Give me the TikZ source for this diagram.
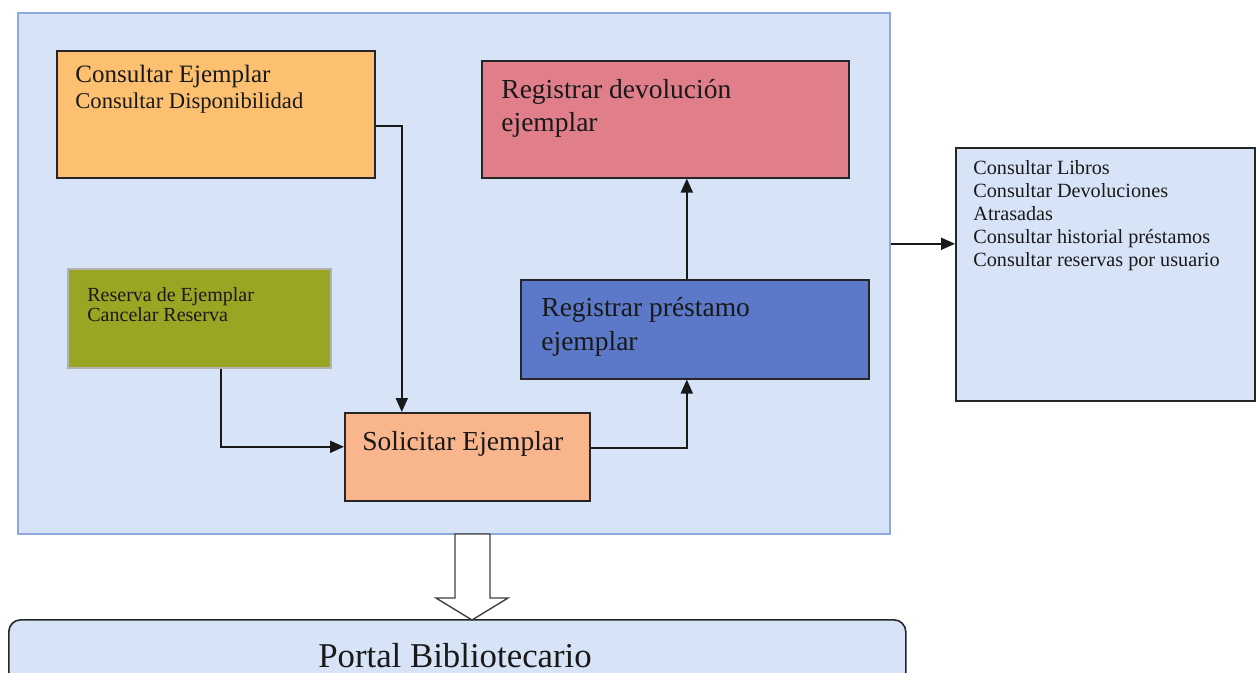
\documentclass[tikz,border=0pt]{standalone}
\usepackage{fontspec}
\setmainfont{Liberation Serif}
\usetikzlibrary{arrows.meta}
\definecolor{panelfill}{HTML}{D7E4F8}
\definecolor{paneledge}{HTML}{8EA8E0}
\definecolor{consfill}{HTML}{FCC070}
\definecolor{devfill}{HTML}{E07F8A}
\definecolor{resfill}{HTML}{9AA524}
\definecolor{prefill}{HTML}{5B79C8}
\definecolor{solfill}{HTML}{F9B58C}
\begin{document}
\begin{tikzpicture}[x=0.5pt,y=-0.5pt,
  box/.style={draw=black!85,line width=0.8pt,anchor=north west,inner sep=0pt},
  txt/.style={anchor=north west,inner sep=0pt,align=left,text=black!90},
  link/.style={draw=black!90,line width=1pt,-{Triangle[length=7pt,width=6pt]}}]
  \useasboundingbox (0,0) rectangle (1256,673);

  \node[box,draw=paneledge,line width=0.8pt,fill=panelfill,minimum width=436pt,minimum height=260.5pt] (panel) at (17,12) {};

  \node[box,fill=consfill,minimum width=159pt,minimum height=63.5pt] (cons) at (56,50) {};
  \node[box,fill=devfill,minimum width=183.5pt,minimum height=58.5pt] (dev) at (481,60) {};
  \node[box,draw=black!30,fill=resfill,minimum width=131.5pt,minimum height=49.5pt] (res) at (67,268) {};
  \node[box,fill=prefill,minimum width=174pt,minimum height=49.5pt] (pre) at (520,279) {};
  \node[box,fill=solfill,minimum width=122.5pt,minimum height=44pt] (sol) at (344,412) {};
  \node[box,fill=panelfill,minimum width=149.5pt,minimum height=126.5pt] (lib) at (955,147) {};
  \node[box,fill=panelfill,rounded corners=6pt,minimum width=448.5pt,minimum height=45.5pt] (portal) at (8,619) {};

  \node[txt,font=\fontsize{12.5}{13}\selectfont] (cons-txt) at (75,65)
    {Consultar Ejemplar\\{\fontsize{11.3}{13}\selectfont Consultar Disponibilidad}};
  \node[txt,font=\fontsize{13.75}{16.5}\selectfont] (dev-txt) at (501,79) {Registrar devolución\\ejemplar};
  \node[txt,font=\fontsize{10}{10}\selectfont] (res-txt) at (87,287) {Reserva de Ejemplar\\Cancelar Reserva};
  \node[txt,font=\fontsize{13.75}{17}\selectfont] (pre-txt) at (541,297) {Registrar préstamo\\ejemplar};
  \node[txt,font=\fontsize{13.75}{16}\selectfont] (sol-txt) at (362,431) {Solicitar Ejemplar};
  \node[txt,font=\fontsize{10.1}{11.5}\selectfont] (lib-txt) at (973,160)
    {Consultar Libros\\Consultar Devoluciones\\Atrasadas\\Consultar historial préstamos\\Consultar reservas por usuario};
  \node[anchor=base,inner sep=0pt,font=\fontsize{17.4}{20}\selectfont,text=black!90] (portal-txt) at (455,667) {Portal Bibliotecario};

  \draw[link] ([yshift=-5.75pt]cons.east) -| ([xshift=-32.75pt]sol.north);
  \draw[link] ([xshift=10.75pt]res.south) |- ([yshift=5pt]sol.west);
  \draw[link] ([yshift=4.5pt]sol.east) -| ([xshift=-4pt]pre.south);
  \draw[link] ([xshift=-4pt]pre.north) -- ([xshift=-4pt]pre.north |- dev.south);
  \draw[link] ([yshift=14.75pt]panel.east) -- ([yshift=14.75pt]panel.east -| lib.west);

  \draw[draw=black!75,line width=0.7pt,fill=white] (455,534) -- (455,598) -- (436,598) -- (472,620)
    -- (508,598) -- (490,598) -- (490,534) -- cycle;
\end{tikzpicture}
\end{document}
